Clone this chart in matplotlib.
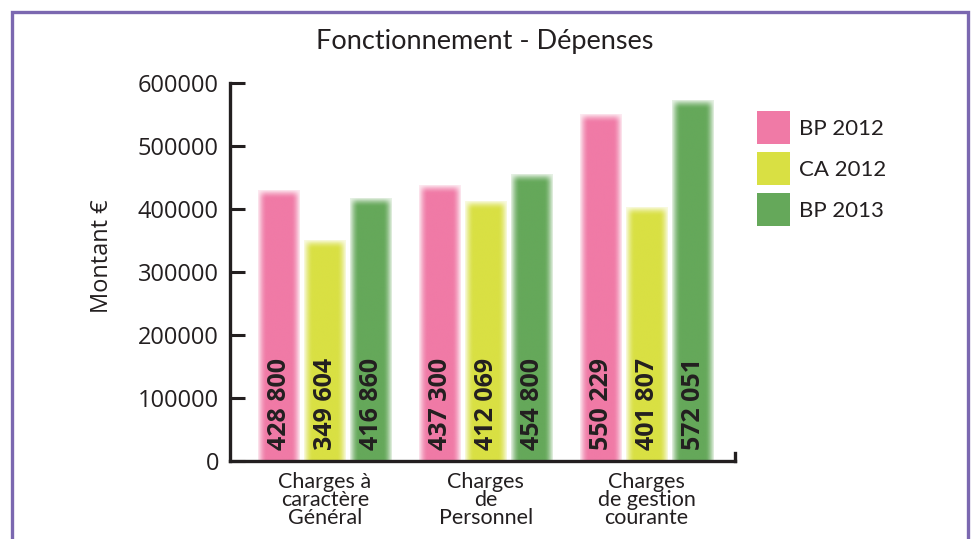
import numpy as np
import matplotlib
matplotlib.use("Agg")
import matplotlib.pyplot as plt
from matplotlib.patches import Rectangle, Patch
from matplotlib.colors import to_rgb

# data
categories = ["Charges à\ncaractère\nGénéral", "Charges\nde\nPersonnel", "Charges\nde gestion\ncourante"]
series = ["BP 2012", "CA 2012", "BP 2013"]
# values per category (BP 2012, CA 2012, BP 2013)
cat1 = [428800, 349604, 416860]
cat2 = [437300, 412069, 454800]
cat3 = [550229, 401807, 572051]
labels1 = ["428 800", "349 604", "416 860"]
labels2 = ["437 300", "412 069", "454 800"]
labels3 = ["550 229", "401 807", "572 051"]
colors = ["#f07aa6", "#d9e043", "#65a85a"]
yticks = [0, 100000, 200000, 300000, 400000, 500000, 600000]

values = np.array([cat1, cat2, cat3])
labels = [labels1, labels2, labels3]

W, H = 977, 539
fig = plt.figure(figsize=(W / 100, H / 100), dpi=100)
ax = fig.add_axes([230 / W, 1 - 461 / H, 505 / W, 378 / H])

x = np.arange(len(categories))
bw = 0.258
off = 0.287
xpx = 161.0             # pixels per x unit
ypx = 63.0 / 100000     # pixels per y unit


def soft_bar(xc, h, color, blur=9.0):
    # bar drawn as an image with blurred sides and top
    wpx = bw * xpx
    hpx = h * ypx
    nx, ny = 100, 400
    u = (np.arange(nx) + 0.5) / nx * wpx
    v = (np.arange(ny) + 0.5) / ny * hpx     # from top
    dx = np.minimum(u, wpx - u)
    ax_ = np.clip(dx / blur, 0, 1)
    ay_ = np.clip(v / blur, 0, 1)
    ax_ = np.sin(ax_ * np.pi / 2)
    ay_ = np.sin(ay_ * np.pi / 2)
    a = 0.15 + 0.85 * np.outer(ay_, ax_)
    img = np.zeros((ny, nx, 4))
    img[..., :3] = to_rgb(color)
    img[..., 3] = a
    ax.imshow(img, extent=[xc - bw / 2, xc + bw / 2, 0, h], origin="upper",
              aspect="auto", interpolation="bilinear", zorder=2)


for j in range(3):
    xs = x + (j - 1) * off
    for i in range(3):
        soft_bar(xs[i], values[i, j], colors[j])
        ax.text(xs[i] + 0.005, 17000, labels[i][j], rotation=90, ha="center", va="bottom",
                fontsize=18, fontweight="bold", family="Open Sans", color="#231f20", zorder=3)

ax.set_xlim(-0.59, 2.55)
ax.set_ylim(0, 600000)
ax.set_yticks(yticks)
ax.set_yticklabels([str(t) for t in yticks], family="Open Sans", fontsize=17, color="#231f20")
ax.set_xticks(x)
ax.set_xticklabels(categories, family="Lato", fontsize=15.5,
                   color="#231f20", linespacing=0.88)
ax.tick_params(axis="y", direction="in", length=11, width=2.2, pad=8, color="#231f20")
ax.tick_params(axis="x", length=0, pad=8)
ax.spines["top"].set_visible(False)
ax.spines["right"].set_bounds(0, 12000)
for s in ax.spines.values():
    s.set_color("#231f20")
    s.set_linewidth(2.4)

fig.text(485 / W, 1 - 42 / H, "Fonctionnement - Dépenses", ha="center", va="center",
         family="Lato", fontsize=19.5, color="#231f20")
fig.text(102 / W, 1 - 256 / H, "Montant €", rotation=90, ha="center", va="center",
         family="Open Sans", fontsize=17, color="#231f20")

handles = [Patch(facecolor=c, edgecolor="none") for c in colors]
leg = fig.legend(handles, series, loc="upper left", bbox_to_anchor=(757 / W, 1 - 111 / H),
                 frameon=False, prop={"family": "Lato", "size": 16},
                 handlelength=1.49, handleheight=1.91, labelspacing=0.36, handletextpad=0.42,
                 borderpad=0, borderaxespad=0)
for t in leg.get_texts():
    t.set_color("#231f20")

fig.patches.append(Rectangle((12 / W, -0.05), 956 / W, 1.05 - 12 / H, transform=fig.transFigure,
                             fill=False, edgecolor="#7b68b0", linewidth=2.4))

fig.savefig("out.png", dpi=100)
